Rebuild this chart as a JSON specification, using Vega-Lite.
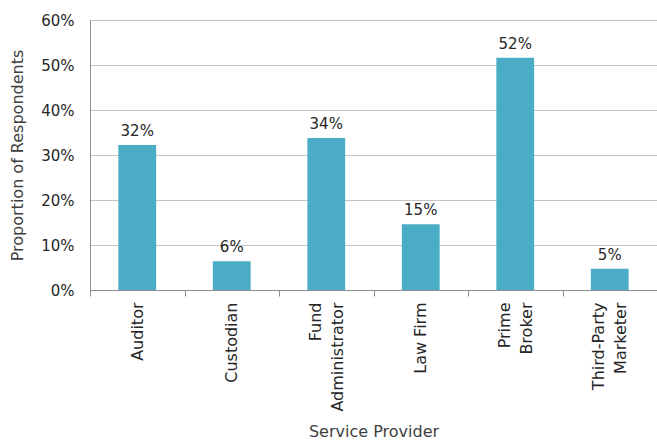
{
  "$schema": "https://vega.github.io/schema/vega-lite/v6.json",
  "width": 567,
  "height": 270,
  "autosize": "none",
  "padding": {"left": 90, "top": 20, "right": 0, "bottom": 156},
  "background": "white",
  "config": {
    "view": {"stroke": null},
    "font": "DejaVu Sans",
    "axis": {"labelColor": "#262626", "titleColor": "#404040", "labelFontSize": 15, "titleFontSize": 16, "titleFontWeight": "normal", "domainColor": "#8c8c8c", "tickColor": "#8c8c8c", "gridColor": "#c4c4c4"}
  },
  "data": {
    "values": [
      {"provider": "Auditor", "value": 0.322},
      {"provider": "Custodian", "value": 0.064},
      {"provider": "Fund Administrator", "value": 0.338},
      {"provider": "Law Firm", "value": 0.146},
      {"provider": "Prime Broker", "value": 0.516},
      {"provider": "Third-Party Marketer", "value": 0.047}
    ]
  },
  "encoding": {
    "x": {
      "field": "provider",
      "type": "nominal",
      "sort": null,
      "scale": {"paddingInner": 0, "paddingOuter": 0},
      "axis": {
        "title": "Service Provider",
        "labelAngle": -90,
        "labelFontSize": 16,
        "labelExpr": "datum.value == null ? '' : (datum.value == 'Law Firm' ? datum.value : split(datum.value, ' '))",
        "labelLineHeight": 22,
        "labelOffset": {"condition": {"test": "datum.value != null && datum.value != 'Law Firm' && indexof(datum.value, ' ') > 0", "value": -11}, "value": 0},
        "labelPadding": 6,
        "tickSize": 6,
        "tickBand": "extent",
        "titlePadding": 12,
        "grid": false
      }
    },
    "y": {
      "field": "value",
      "type": "quantitative",
      "scale": {"domain": [0, 0.6]},
      "axis": {
        "title": "Proportion of Respondents",
        "format": ".0%",
        "values": [0, 0.1, 0.2, 0.3, 0.4, 0.5, 0.6],
        "ticks": false,
        "labelPadding": 16,
        "titlePadding": 15,
        "grid": true
      }
    }
  },
  "layer": [
    {"mark": {"type": "bar", "color": "#4AACC5", "width": {"band": 0.4}}},
    {
      "mark": {"type": "text", "baseline": "bottom", "dy": -6, "fontSize": 15, "color": "#262626"},
      "encoding": {"text": {"field": "value", "format": ".0%"}}
    }
  ]
}
